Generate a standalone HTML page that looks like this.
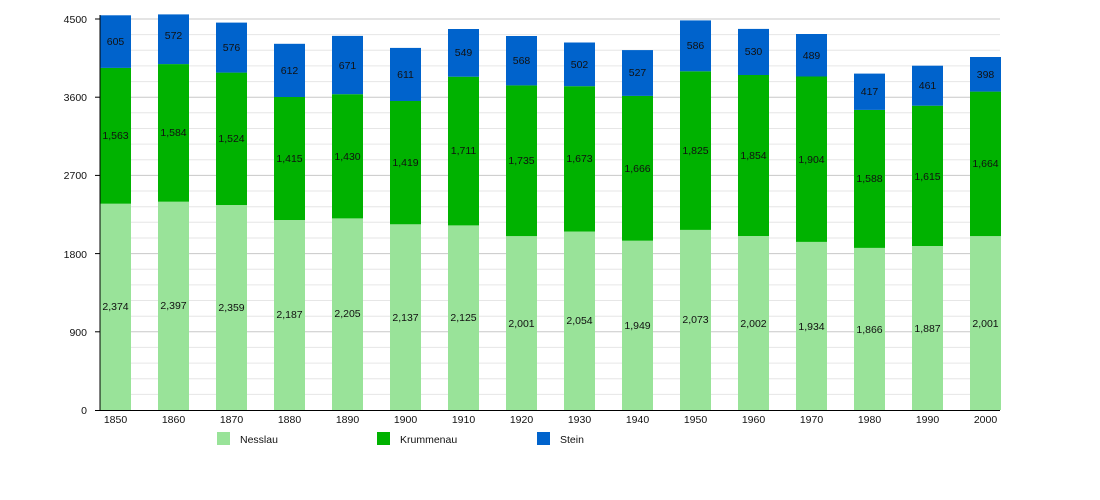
<!DOCTYPE html>
<html><head><meta charset="utf-8"><style>body{margin:0;background:#fff}svg{display:block;font-family:"Liberation Sans",sans-serif}</style></head><body>
<svg width="1100" height="500" xmlns="http://www.w3.org/2000/svg">
<g stroke="#e6e6e6" stroke-width="1">
<line x1="100" x2="1000" y1="394.4" y2="394.4"/><line x1="100" x2="1000" y1="378.7" y2="378.7"/><line x1="100" x2="1000" y1="363.1" y2="363.1"/><line x1="100" x2="1000" y1="347.4" y2="347.4"/>
<line x1="100" x2="1000" y1="316.2" y2="316.2"/><line x1="100" x2="1000" y1="300.5" y2="300.5"/><line x1="100" x2="1000" y1="284.9" y2="284.9"/><line x1="100" x2="1000" y1="269.2" y2="269.2"/>
<line x1="100" x2="1000" y1="238" y2="238"/><line x1="100" x2="1000" y1="222.3" y2="222.3"/><line x1="100" x2="1000" y1="206.7" y2="206.7"/><line x1="100" x2="1000" y1="191" y2="191"/>
<line x1="100" x2="1000" y1="159.8" y2="159.8"/><line x1="100" x2="1000" y1="144.1" y2="144.1"/><line x1="100" x2="1000" y1="128.5" y2="128.5"/><line x1="100" x2="1000" y1="112.8" y2="112.8"/>
<line x1="100" x2="1000" y1="81.6" y2="81.6"/><line x1="100" x2="1000" y1="65.9" y2="65.9"/><line x1="100" x2="1000" y1="50.3" y2="50.3"/><line x1="100" x2="1000" y1="34.6" y2="34.6"/>
</g>
<g stroke="#c8c8c8" stroke-width="1">
<line x1="100" x2="1000" y1="331.8" y2="331.8"/><line x1="100" x2="1000" y1="253.6" y2="253.6"/><line x1="100" x2="1000" y1="175.4" y2="175.4"/><line x1="100" x2="1000" y1="97.2" y2="97.2"/><line x1="100" x2="1000" y1="19" y2="19"/>
</g>
<g id="bars">
<!-- 1850 -->
<rect x="100" y="203.7" width="31" height="206.3" fill="#99e399"/><rect x="100" y="67.9" width="31" height="135.8" fill="#00b200"/><rect x="100" y="15.3" width="31" height="52.6" fill="#0063cc"/>
<rect x="158" y="201.7" width="31" height="208.3" fill="#99e399"/><rect x="158" y="64.1" width="31" height="137.6" fill="#00b200"/><rect x="158" y="14.4" width="31" height="49.7" fill="#0063cc"/>
<rect x="216" y="205" width="31" height="205" fill="#99e399"/><rect x="216" y="72.6" width="31" height="132.4" fill="#00b200"/><rect x="216" y="22.6" width="31" height="50" fill="#0063cc"/>
<rect x="274" y="220" width="31" height="190" fill="#99e399"/><rect x="274" y="97" width="31" height="123" fill="#00b200"/><rect x="274" y="43.8" width="31" height="53.2" fill="#0063cc"/>
<rect x="332" y="218.4" width="31" height="191.6" fill="#99e399"/><rect x="332" y="94.2" width="31" height="124.2" fill="#00b200"/><rect x="332" y="35.9" width="31" height="58.3" fill="#0063cc"/>
<rect x="390" y="224.3" width="31" height="185.7" fill="#99e399"/><rect x="390" y="101" width="31" height="123.3" fill="#00b200"/><rect x="390" y="47.9" width="31" height="53.1" fill="#0063cc"/>
<rect x="448" y="225.4" width="31" height="184.6" fill="#99e399"/><rect x="448" y="76.7" width="31" height="148.7" fill="#00b200"/><rect x="448" y="29" width="31" height="47.7" fill="#0063cc"/>
<rect x="506" y="236.1" width="31" height="173.9" fill="#99e399"/><rect x="506" y="85.4" width="31" height="150.7" fill="#00b200"/><rect x="506" y="36" width="31" height="49.4" fill="#0063cc"/>
<rect x="564" y="231.5" width="31" height="178.5" fill="#99e399"/><rect x="564" y="86.2" width="31" height="145.3" fill="#00b200"/><rect x="564" y="42.5" width="31" height="43.7" fill="#0063cc"/>
<rect x="622" y="240.7" width="31" height="169.3" fill="#99e399"/><rect x="622" y="95.9" width="31" height="144.8" fill="#00b200"/><rect x="622" y="50.1" width="31" height="45.8" fill="#0063cc"/>
<rect x="680" y="229.9" width="31" height="180.1" fill="#99e399"/><rect x="680" y="71.3" width="31" height="158.6" fill="#00b200"/><rect x="680" y="20.4" width="31" height="50.9" fill="#0063cc"/>
<rect x="738" y="236" width="31" height="174" fill="#99e399"/><rect x="738" y="75" width="31" height="161" fill="#00b200"/><rect x="738" y="28.9" width="31" height="46.1" fill="#0063cc"/>
<rect x="796" y="241.9" width="31" height="168.1" fill="#99e399"/><rect x="796" y="76.5" width="31" height="165.4" fill="#00b200"/><rect x="796" y="34" width="31" height="42.5" fill="#0063cc"/>
<rect x="854" y="247.9" width="31" height="162.1" fill="#99e399"/><rect x="854" y="109.9" width="31" height="138" fill="#00b200"/><rect x="854" y="73.6" width="31" height="36.3" fill="#0063cc"/>
<rect x="912" y="246" width="31" height="164" fill="#99e399"/><rect x="912" y="105.7" width="31" height="140.3" fill="#00b200"/><rect x="912" y="65.7" width="31" height="40" fill="#0063cc"/>
<rect x="970" y="236.1" width="31" height="173.9" fill="#99e399"/><rect x="970" y="91.6" width="31" height="144.5" fill="#00b200"/><rect x="970" y="57" width="31" height="34.6" fill="#0063cc"/>
</g>
<g font-size="10.5" fill="#111" text-anchor="middle">
<text x="115.5" y="310">2,374</text><text x="115.5" y="139">1,563</text><text x="115.5" y="45">605</text>
<text x="173.5" y="309">2,397</text><text x="173.5" y="136">1,584</text><text x="173.5" y="39">572</text>
<text x="231.5" y="311">2,359</text><text x="231.5" y="142">1,524</text><text x="231.5" y="51">576</text>
<text x="289.5" y="318">2,187</text><text x="289.5" y="162">1,415</text><text x="289.5" y="74">612</text>
<text x="347.5" y="317">2,205</text><text x="347.5" y="160">1,430</text><text x="347.5" y="69">671</text>
<text x="405.5" y="321">2,137</text><text x="405.5" y="166">1,419</text><text x="405.5" y="78">611</text>
<text x="463.5" y="321">2,125</text><text x="463.5" y="154">1,711</text><text x="463.5" y="56">549</text>
<text x="521.5" y="327">2,001</text><text x="521.5" y="164">1,735</text><text x="521.5" y="64">568</text>
<text x="579.5" y="324">2,054</text><text x="579.5" y="162">1,673</text><text x="579.5" y="68">502</text>
<text x="637.5" y="329">1,949</text><text x="637.5" y="172">1,666</text><text x="637.5" y="76">527</text>
<text x="695.5" y="323">2,073</text><text x="695.5" y="154">1,825</text><text x="695.5" y="49">586</text>
<text x="753.5" y="327">2,002</text><text x="753.5" y="159">1,854</text><text x="753.5" y="55">530</text>
<text x="811.5" y="330">1,934</text><text x="811.5" y="163">1,904</text><text x="811.5" y="59">489</text>
<text x="869.5" y="333">1,866</text><text x="869.5" y="182">1,588</text><text x="869.5" y="95">417</text>
<text x="927.5" y="332">1,887</text><text x="927.5" y="180">1,615</text><text x="927.5" y="89">461</text>
<text x="985.5" y="327">2,001</text><text x="985.5" y="167">1,664</text><text x="985.5" y="78">398</text>
</g>
<g stroke="#000" stroke-width="1">
<line x1="100" y1="15" x2="100" y2="410"/><line x1="95" y1="410.5" x2="1000" y2="410.5"/>
<line x1="95" y1="19" x2="100" y2="19"/><line x1="95" y1="97.2" x2="100" y2="97.2"/><line x1="95" y1="175.4" x2="100" y2="175.4"/><line x1="95" y1="253.6" x2="100" y2="253.6"/><line x1="95" y1="331.8" x2="100" y2="331.8"/>
</g>
<g font-size="10.5" fill="#111" text-anchor="end">
<text x="87" y="23">4500</text><text x="87" y="101">3600</text><text x="87" y="179">2700</text><text x="87" y="258">1800</text><text x="87" y="336">900</text><text x="87" y="414">0</text>
</g>
<g font-size="10.5" fill="#111" text-anchor="middle">
<text x="115.5" y="423">1850</text><text x="173.5" y="423">1860</text><text x="231.5" y="423">1870</text><text x="289.5" y="423">1880</text><text x="347.5" y="423">1890</text><text x="405.5" y="423">1900</text><text x="463.5" y="423">1910</text><text x="521.5" y="423">1920</text><text x="579.5" y="423">1930</text><text x="637.5" y="423">1940</text><text x="695.5" y="423">1950</text><text x="753.5" y="423">1960</text><text x="811.5" y="423">1970</text><text x="869.5" y="423">1980</text><text x="927.5" y="423">1990</text><text x="985.5" y="423">2000</text>
</g>
<rect x="217" y="432" width="13" height="13" fill="#99e399"/><text x="240" y="443" font-size="10.5" fill="#111">Nesslau</text>
<rect x="377" y="432" width="13" height="13" fill="#00b200"/><text x="400" y="443" font-size="10.5" fill="#111">Krummenau</text>
<rect x="537" y="432" width="13" height="13" fill="#0063cc"/><text x="560" y="443" font-size="10.5" fill="#111">Stein</text>
</svg>
</body></html>
